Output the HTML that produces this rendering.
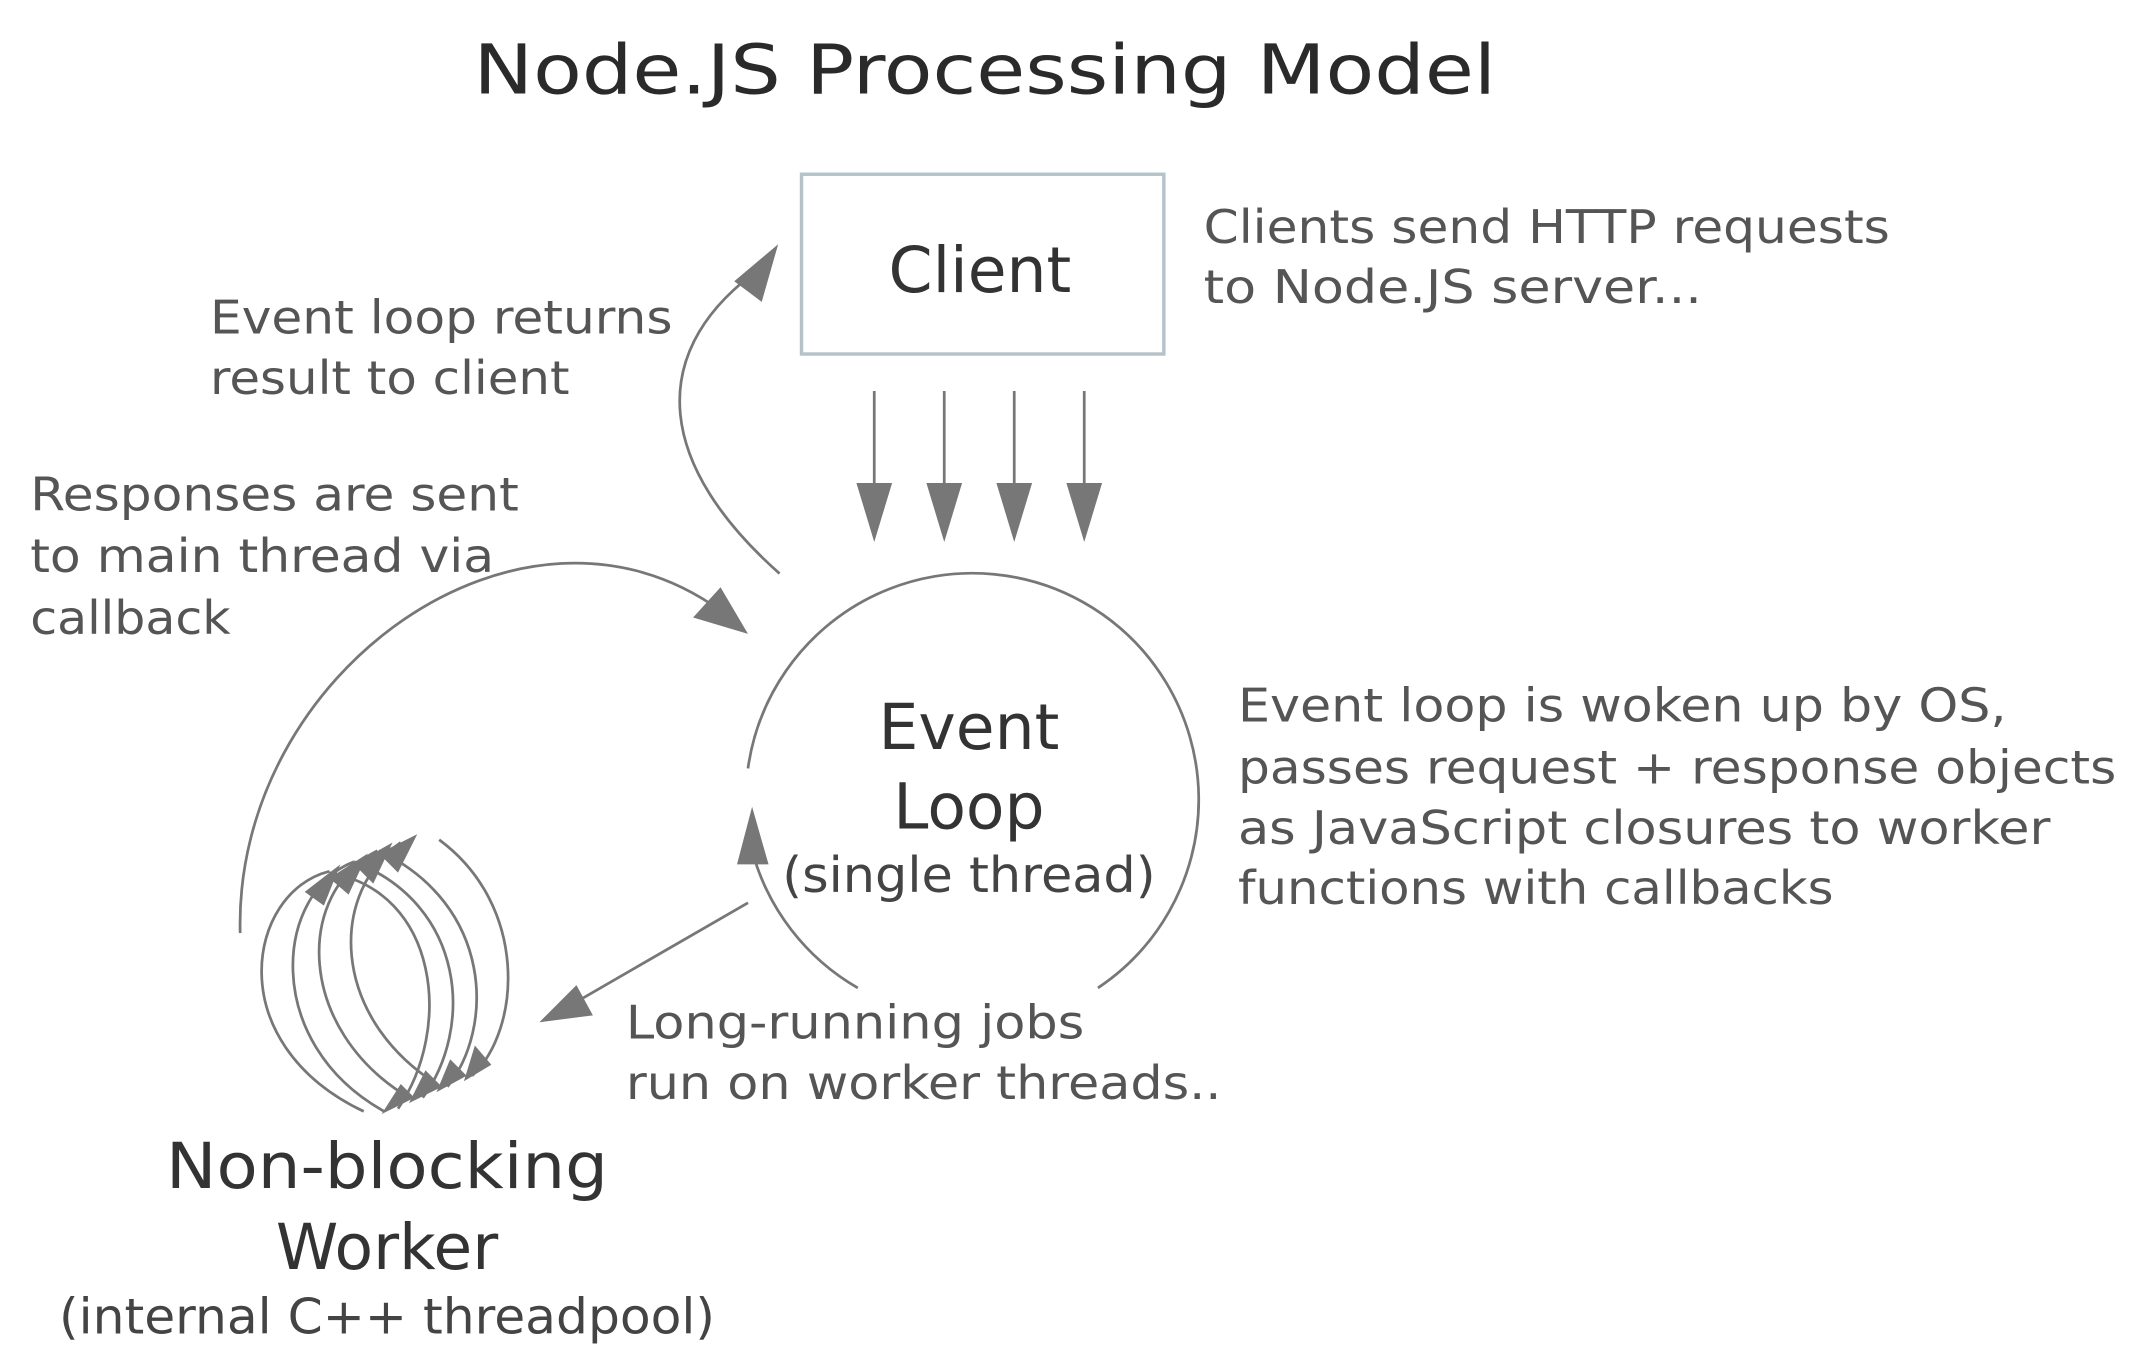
<!DOCTYPE html>
<html><head><style>html,body{margin:0;padding:0;background:#fff}svg{display:block}</style></head>
<body>
<svg width="2152" height="1368" viewBox="0 0 1568 997" preserveAspectRatio="none" xmlns="http://www.w3.org/2000/svg" font-family="'DejaVu Sans','Liberation Sans',sans-serif">
<text x="345" y="68" font-size="50" fill="#2a2a2a" textLength="745" lengthAdjust="spacingAndGlyphs">Node.JS Processing Model</text>

<rect x="584" y="127" width="264" height="131" fill="none" stroke="#b4c2ca" stroke-width="2.5"/>
<text x="714" y="213" font-size="46" fill="#333" text-anchor="middle">Client</text>

<g font-size="34" fill="#555">
<text x="877" y="177" textLength="500" lengthAdjust="spacingAndGlyphs">Clients send HTTP requests</text>
<text x="877" y="221" textLength="363" lengthAdjust="spacingAndGlyphs">to Node.JS server...</text>
<text x="153" y="243" textLength="337" lengthAdjust="spacingAndGlyphs">Event loop returns</text>
<text x="153" y="287" textLength="262" lengthAdjust="spacingAndGlyphs">result to client</text>
<text x="22" y="372" textLength="356" lengthAdjust="spacingAndGlyphs">Responses are sent</text>
<text x="22" y="417" textLength="338" lengthAdjust="spacingAndGlyphs">to main thread via</text>
<text x="22" y="462" textLength="146" lengthAdjust="spacingAndGlyphs">callback</text>
<text x="902" y="526" textLength="560" lengthAdjust="spacingAndGlyphs">Event loop is woken up by OS,</text>
<text x="902" y="571" textLength="640" lengthAdjust="spacingAndGlyphs">passes request + response objects</text>
<text x="902" y="615" textLength="592" lengthAdjust="spacingAndGlyphs">as JavaScript closures to worker</text>
<text x="902" y="659" textLength="434" lengthAdjust="spacingAndGlyphs">functions with callbacks</text>
<text x="456" y="757" textLength="334" lengthAdjust="spacingAndGlyphs">Long-running jobs</text>
<text x="456" y="801" textLength="434" lengthAdjust="spacingAndGlyphs">run on worker threads..</text>
</g>

<g fill="#333" text-anchor="middle">
<text x="706" y="546" font-size="46">Event</text>
<text x="706" y="604" font-size="46">Loop</text>
<text x="706" y="650" font-size="36" fill="#444" textLength="272" lengthAdjust="spacingAndGlyphs">(single thread)</text>
<text x="282" y="866" font-size="46" textLength="322" lengthAdjust="spacingAndGlyphs">Non-blocking</text>
<text x="282" y="925" font-size="46">Worker</text>
<text x="282" y="972" font-size="36" fill="#444" textLength="478" lengthAdjust="spacingAndGlyphs">(internal C++ threadpool)</text>
</g>

<g stroke="#777" stroke-width="2" fill="none">
<line x1="637" y1="285" x2="637" y2="360"/>
<line x1="688" y1="285" x2="688" y2="360"/>
<line x1="739" y1="285" x2="739" y2="360"/>
<line x1="790" y1="285" x2="790" y2="360"/>
<path d="M545 560 A165 165 0 1 1 800 720"/>
<path d="M548 620 A165 165 0 0 0 625 720"/>
<path d="M568 418 C 480 340, 470 260, 548 200"/>
<path d="M175 680 C 170 490, 380 340, 525 445"/>
<line x1="545" y1="658" x2="415" y2="733"/>
<path d="M265 810 C 160 760, 180 650, 240 635"/>
<path d="M280 810 C 190 760, 200 650, 258 628"/>
<path d="M298 800 C 215 750, 215 650, 275 620"/>
<path d="M318 790 C 240 740, 240 650, 292 614"/>
<path d="M240 636 C 320 650, 330 750, 290 808"/>
<path d="M258 628 C 340 660, 345 750, 308 800"/>
<path d="M276 620 C 360 660, 360 750, 326 792"/>
<path d="M320 612 C 385 660, 380 750, 344 784"/>
</g>
<g fill="#777">
<polygon points="624,352 650,352 637,395"/>
<polygon points="675,352 701,352 688,395"/>
<polygon points="726,352 752,352 739,395"/>
<polygon points="777,352 803,352 790,395"/>
<polygon points="567,178 555,220 535,205"/>
<polygon points="545,462 505,450 525,428"/>
<polygon points="548,588 537,630 560,630"/>
<polygon points="393,745 420,718 432,740"/>
<polygon points="248,630 222,650 236,660"/>
<polygon points="268,622 240,640 254,652"/>
<polygon points="286,614 258,630 272,644"/>
<polygon points="304,608 276,622 290,636"/>
<polygon points="278,812 292,790 302,800"/>
<polygon points="298,804 310,780 322,792"/>
<polygon points="318,796 328,772 340,784"/>
<polygon points="338,788 346,762 358,776"/>
</g>
</svg>
</body></html>
